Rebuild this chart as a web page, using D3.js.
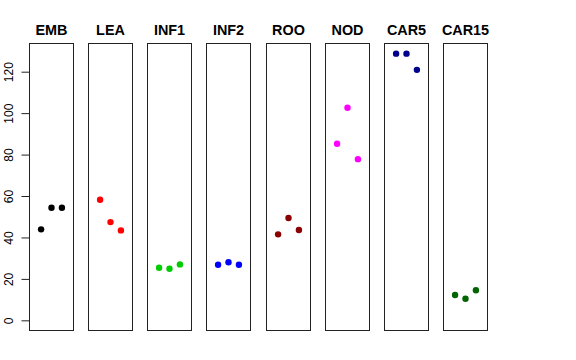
<!DOCTYPE html>
<html>
<head>
<meta charset="utf-8">
<script src="https://cdn.jsdelivr.net/npm/d3@7"></script>
<style>
  html, body { margin: 0; padding: 0; background: #fff; }
  svg { display: block; }
</style>
</head>
<body>
<svg id="chart" width="576" height="360"></svg>
<script>
// ---- Data ----
const categories = ["EMB", "LEA", "INF1", "INF2", "ROO", "NOD", "CAR5", "CAR15"];
const colors = ["#000000", "#FF0000", "#00CD00", "#0000FF", "#8B0000", "#FF00FF", "#00008B", "#006400"];
const replicate1 = [43.9, 58.2, 25.4, 26.8, 41.5, 85.2, 128.7, 12.2];
const replicate2 = [54.3, 47.4, 24.9, 28.0, 49.4, 102.6, 128.7, 10.4];
const replicate3 = [54.3, 43.4, 27.0, 26.8, 43.6, 77.8, 120.9, 14.5];
const yTicks = [0, 20, 40, 60, 80, 100, 120];
const replicates = [replicate1, replicate2, replicate3];

(function () {
  const svg = d3.select("#chart");
  const panelW = 45;
  const plotTop = 43, plotBottom = 331;
  const panelX = d3.scaleLinear().domain([0, categories.length - 1]).range([29, 443]);
  const yMax = d3.max(replicates.flat());
  const pad = yMax * 0.04;
  const y = d3.scaleLinear().domain([0 - pad, yMax + pad]).range([plotBottom, plotTop]);
  const xIn = d3.scaleLinear().domain([-0.16, 4.16]).range([0, panelW]);

  categories.forEach((cat, i) => {
    const g = svg.append("g").attr("transform", `translate(${Math.round(panelX(i))},0)`);
    g.append("rect")
      .attr("x", 0.5).attr("y", plotTop + 0.5)
      .attr("width", panelW - 1).attr("height", plotBottom - plotTop - 1)
      .attr("fill", "none").attr("stroke", "#222").attr("stroke-width", 1);
    g.append("text")
      .attr("x", panelW / 2).attr("y", 34.5)
      .attr("text-anchor", "middle")
      .attr("font-family", "Liberation Sans, Arial, sans-serif")
      .attr("font-weight", "bold").attr("font-size", "14.4px")
      .text(cat);
    g.selectAll("circle")
      .data(replicates.map((r, j) => ({ x: j + 1, v: r[i] })))
      .join("circle")
      .attr("cx", d => xIn(d.x))
      .attr("cy", d => y(d.v))
      .attr("r", 3.2)
      .attr("fill", colors[i]);
  });

  // ---- Y axis ----
  const axis = d3.axisLeft(y).tickValues(yTicks).tickSize(8).tickPadding(5);
  const ag = svg.append("g").attr("transform", "translate(29.5,0)").call(axis);
  ag.select(".domain").attr("d", `M0,${y(0)}V${y(120)}`).attr("stroke", "#222");
  ag.selectAll(".tick line").attr("stroke", "#222");
  ag.selectAll(".tick text")
    .attr("font-family", "Liberation Sans, Arial, sans-serif")
    .attr("font-size", "12px")
    .attr("fill", "#000")
    .attr("text-anchor", "middle")
    .attr("x", 0).attr("y", 0)
    .attr("dy", 0)
    .attr("transform", "translate(-17,0) rotate(-90)");
})();
</script>
</body>
</html>
